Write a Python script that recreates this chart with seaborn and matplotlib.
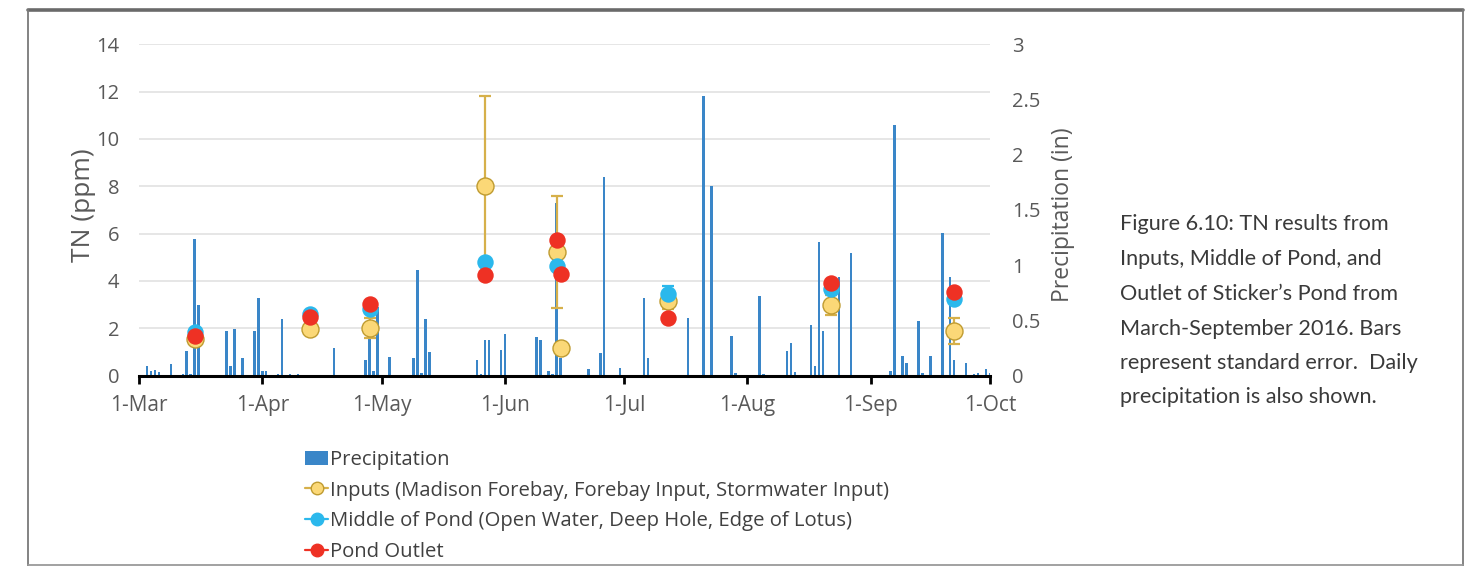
import numpy as np
import pandas as pd
import matplotlib
matplotlib.use("Agg")
import matplotlib.pyplot as plt
import matplotlib.dates as mdates
import matplotlib.transforms as mtransforms
from matplotlib.lines import Line2D
from matplotlib.patches import Patch
import seaborn as sns

# ---------------------------------------------------------------- data
SEASON_START = pd.Timestamp("2016-03-01")
SEASON_END = pd.Timestamp("2016-10-01")

# daily precipitation: days after 1 March, inches
precip_day = [2, 3, 4, 5, 7, 8, 11, 12, 13, 14, 15, 22, 23, 24, 26, 29, 30, 31, 32,
              35, 36, 37, 38, 40, 49, 50, 57, 58, 59, 60, 63, 64, 67, 69, 70, 71,
              72, 73, 74, 77, 84, 85, 86, 87, 88, 89, 91, 92, 95, 100, 101, 102,
              103, 104, 105, 106, 113, 116, 117, 121, 127, 128, 133, 138, 142, 143,
              144, 149, 150, 156, 157, 163, 164, 165, 169, 170, 171, 172, 176, 179,
              189, 190, 192, 193, 196, 197, 199, 202, 204, 205, 208, 210, 211, 213,
              214]
precip_in = [0.085, 0.04, 0.05, 0.03, 0.005, 0.10, 0.01, 0.22, 0.01, 1.24, 0.64,
             0.40, 0.085, 0.42, 0.16, 0.40, 0.70, 0.04, 0.04, 0.01, 0.51, 0.005,
             0.01, 0.01, 0.25, 0.005, 0.14, 0.40, 0.045, 0.62, 0.17, 0.005, 0.005,
             0.16, 0.96, 0.02, 0.51, 0.21, 0.005, 0.005, 0.005, 0.14, 0.01, 0.32,
             0.32, 0.005, 0.23, 0.375, 0.005, 0.35, 0.32, 0.005, 0.045, 0.01, 1.56,
             0.16, 0.06, 0.20, 1.80, 0.066, 0.70, 0.16, 0.005, 0.525, 2.53, 0.005,
             1.72, 0.36, 0.02, 0.72, 0.01, 0.22, 0.29, 0.03, 0.46, 0.085, 1.21,
             0.40, 0.89, 1.11, 0.04, 2.27, 0.175, 0.115, 0.495, 0.025, 0.175,
             1.295, 0.89, 0.14, 0.11, 0.01, 0.025, 0.063, 0.025]

# TN sampling results (ppm) with standard error
inputs_dates = ["2016-03-15", "2016-04-13", "2016-04-28", "2016-05-27", "2016-06-14",
                "2016-06-15", "2016-07-12", "2016-08-22", "2016-09-22"]
inputs_tn = [1.54, 1.95, 2.0, 8.0, 5.22, 1.15, 3.14, 2.98, 1.9]
inputs_se = [0.0, 0.0, 0.43, 3.8, 2.35, 0.0, 0.34, 0.44, 0.55]

middle_dates = ["2016-03-15", "2016-04-13", "2016-04-28", "2016-05-27", "2016-06-14",
                "2016-07-12", "2016-08-22", "2016-09-22"]
middle_tn = [1.83, 2.62, 2.83, 4.81, 4.64, 3.43, 3.67, 3.25]
middle_se = [0.0, 0.0, 0.0, 0.0, 0.0, 0.37, 0.0, 0.0]

outlet_dates = ["2016-03-15", "2016-04-13", "2016-04-28", "2016-05-27", "2016-06-14",
                "2016-06-15", "2016-07-12", "2016-08-22", "2016-09-22"]
outlet_tn = [1.68, 2.48, 3.01, 4.24, 5.73, 4.28, 2.43, 3.91, 3.54]

tn_ticks = [0, 2, 4, 6, 8, 10, 12, 14]
precip_ticks = [0, 0.5, 1, 1.5, 2, 2.5, 3]
precip_ticklabels = ["0", "0.5", "1", "1.5", "2", "2.5", "3"]

labels = ["Precipitation",
          "Inputs (Madison Forebay, Forebay Input, Stormwater Input)",
          "Middle of Pond (Open Water, Deep Hole, Edge of Lotus)",
          "Pond Outlet"]

caption = ["Figure 6.10: TN results from",
           "Inputs, Middle of Pond, and",
           "Outlet of Sticker\u2019s Pond from",
           "March-September 2016. Bars",
           "represent standard error.  Daily",
           "precipitation is also shown."]

# ---------------------------------------------------------------- style
BLUE = "#3a86c8"
YELLOW = "#fbd877"
YELLOW_EDGE = "#bf9b30"
YELLOW_ERR = "#d6b04a"
CYAN = "#2bb8ec"
RED = "#ee3124"
TEXT = "#595959"
GRID = "#e4e4e4"

sns.set_theme(style="white")
plt.rcParams["font.family"] = ["Open Sans", "DejaVu Sans"]

W, H = 1469, 566
fig = plt.figure(figsize=(W / 100, H / 100), dpi=100)
x0, x1, y_top, y_bot = 139, 990, 44.4, 375.5
ax = fig.add_axes([x0 / W, 1 - y_bot / H, (x1 - x0) / W, (y_bot - y_top) / H])
ax2 = ax.twinx()
ax.set_zorder(ax2.get_zorder() + 1)
ax.patch.set_visible(False)

# precipitation columns on the right-hand axis
precip_dates = SEASON_START + pd.to_timedelta(precip_day, unit="D")
ax2.bar(precip_dates, precip_in, width=0.62, color=BLUE, linewidth=0, zorder=2)
ax2.set_ylim(0, 3)
ax2.set_yticks(precip_ticks)
ax2.set_yticklabels(precip_ticklabels)

# horizontal gridlines at the TN ticks, behind the columns
ax.set_ylim(0, 14)
grid_tf = mtransforms.blended_transform_factory(ax2.transAxes, ax.transData)
for t in tn_ticks[1:]:
    ax2.plot([0, 1], [t, t], transform=grid_tf, color=GRID, lw=1.3, zorder=1)

# standard error bars
err_kw = dict(fmt="none", elinewidth=1.6, capsize=4, capthick=1.6, zorder=3)
inp = pd.DataFrame({"date": pd.to_datetime(inputs_dates), "tn": inputs_tn, "se": inputs_se})
mid = pd.DataFrame({"date": pd.to_datetime(middle_dates), "tn": middle_tn, "se": middle_se})
out = pd.DataFrame({"date": pd.to_datetime(outlet_dates), "tn": outlet_tn})
e_inp = inp[inp.se > 0]
e_mid = mid[mid.se > 0]
ax.errorbar(e_inp.date, e_inp.tn, yerr=e_inp.se, ecolor=YELLOW_ERR, **err_kw)
ax.errorbar(e_mid.date, e_mid.tn, yerr=e_mid.se, ecolor=CYAN, **err_kw)

# TN sample markers
sns.scatterplot(data=inp, x="date", y="tn", ax=ax, s=150, color=YELLOW,
                edgecolor=YELLOW_EDGE, linewidth=1.0, zorder=4, legend=False)
sns.scatterplot(data=mid, x="date", y="tn", ax=ax, s=140, color=CYAN,
                edgecolor=CYAN, linewidth=0.0, zorder=5, legend=False)
sns.scatterplot(data=out, x="date", y="tn", ax=ax, s=140, color=RED,
                edgecolor=RED, linewidth=0.0, zorder=6, legend=False)

# axes formatting
ax.set_xlim(SEASON_START, SEASON_END)
ax.xaxis.set_major_locator(mdates.MonthLocator())
ax.xaxis.set_major_formatter(mdates.DateFormatter("%-d-%b"))
ax.set_yticks(tn_ticks)
ax.set_xlabel("")
ax.set_ylabel("TN (ppm)", fontsize=19, color=TEXT)
ax.yaxis.set_label_coords((96 - x0) / (x1 - x0), 0.515)
ax2.set_ylabel("Precipitation (in)", fontsize=16.5, color=TEXT)
ax2.yaxis.set_label_coords((1051 - x0) / (x1 - x0), 0.485)

for a in (ax, ax2):
    for s in a.spines.values():
        s.set_visible(False)
ax.spines["bottom"].set_visible(True)
ax.spines["bottom"].set_color("black")
ax.spines["bottom"].set_linewidth(2.2)
ax.spines["bottom"].set_zorder(10)

ax.tick_params(axis="x", direction="out", length=6, width=2, color="black",
               labelsize=15, labelcolor=TEXT, pad=8, bottom=True)
ax.tick_params(axis="y", length=0, labelsize=14.5, labelcolor=TEXT, pad=14)
ax2.tick_params(axis="y", length=0, labelsize=14.5, labelcolor=TEXT, pad=16)

# legend below the plot
handles = [
    Patch(facecolor=BLUE, edgecolor="none"),
    Line2D([0], [0], color=YELLOW_ERR, lw=1.6, marker="o", markersize=9,
           markerfacecolor=YELLOW, markeredgecolor=YELLOW_EDGE),
    Line2D([0], [0], color=CYAN, lw=1.6, marker="o", markersize=9,
           markerfacecolor=CYAN, markeredgecolor=CYAN),
    Line2D([0], [0], color=RED, lw=1.6, marker="o", markersize=9,
           markerfacecolor=RED, markeredgecolor=RED),
]
leg = fig.legend(handles, labels, loc="upper left",
                 bbox_to_anchor=(305 / W, 1 - 450 / H), frameon=False,
                 fontsize=14.6, handlelength=1.15, handletextpad=0.1,
                 labelspacing=0.52, borderaxespad=0, borderpad=0)
for t in leg.get_texts():
    t.set_color("#404040")

# caption at the right
cap_y = [224, 259, 294, 329, 363, 397]
for line, yc in zip(caption, cap_y):
    fig.text(1120 / W, 1 - yc / H, line, fontsize=15.6, color="#3a3a3a",
             family=["Lato", "DejaVu Sans"], va="center", ha="left")

# page frame
frame_kw = dict(transform=fig.transFigure, clip_on=False)
fig.add_artist(Line2D([28 / W, 1463 / W], [1 - 10 / H, 1 - 10 / H],
                      color="#6a6a6a", lw=2.6, **frame_kw))
fig.add_artist(Line2D([28 / W, 28 / W], [1 - 10 / H, 1 - 566 / H],
                      color="#7a7a7a", lw=1.3, **frame_kw))
fig.add_artist(Line2D([1463 / W, 1463 / W], [1 - 10 / H, 1 - 566 / H],
                      color="#7a7a7a", lw=1.3, **frame_kw))
fig.add_artist(Line2D([28 / W, 1463 / W], [1 - 565 / H, 1 - 565 / H],
                      color="#9a9a9a", lw=1.3, **frame_kw))

fig.savefig("out.png", dpi=100, facecolor="white")
